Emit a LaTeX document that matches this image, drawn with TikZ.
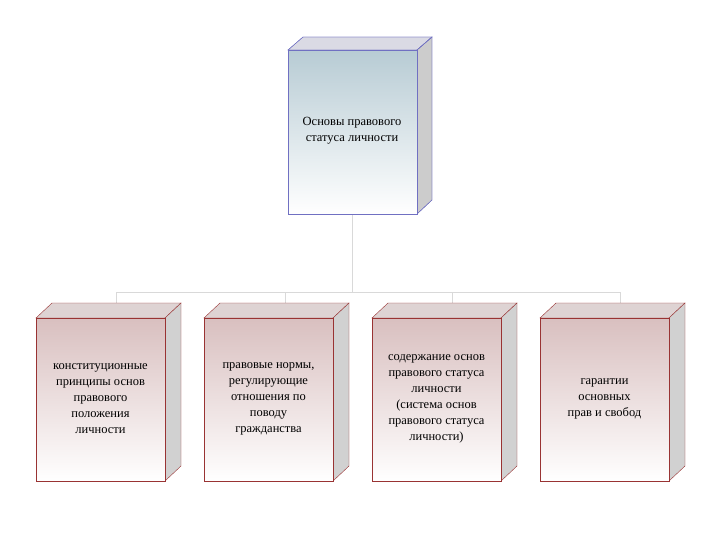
\documentclass[tikz,border=0pt]{standalone}
\usepackage{fontspec}
\setmainfont{Liberation Serif}
\tikzset{
  conn/.style={draw=black!15, line width=1pt},
  topfront/.style={draw=blue!40!gray!80, top color=blue!30!cyan!25!gray!45, bottom color=white},
  topside/.style={draw=blue!40!gray!80, fill=black!20},
  toptop/.style={draw=blue!40!gray!80, fill=blue!15!gray!25},
  pfront/.style={draw=red!50!black!80, top color=red!25!gray!40, bottom color=white},
  pside/.style={draw=red!50!black!80, fill=black!18},
  ptop/.style={draw=red!50!black!80, fill=red!15!gray!30},
  lbl/.style={align=center, font=\fontsize{12.5}{16}\selectfont, text=black}
}
\begin{document}
\begin{tikzpicture}[x=1pt,y=-1pt]
\useasboundingbox (0,0) rectangle (720,540);
% connectors
\coordinate (j) at (352,292);
\draw[conn] (352,214) -- (j);
\draw[conn] (116,292) -- (620,292);
\foreach \x in {116,285,452,620} \draw[conn] (\x,292) -- (\x,303);
% top box
\fill[toptop] (288,50) -- (303,37) -- (432,37) -- (417,50) -- cycle;
\fill[topside] (417,50) -- (432,37) -- (432,200) -- (417,214) -- cycle;
\draw[draw=blue!40!gray!80] (288,50) -- (303,37) -- (432,37) -- (417,50) -- cycle;
\draw[draw=blue!40!gray!80] (417,50) -- (432,37) -- (432,200) -- (417,214) -- cycle;
\node[topfront, minimum width=129pt, minimum height=164pt, anchor=north west, inner sep=0] (top) at (288,50) {};
\node[lbl] (ttext) at (352,131) {Основы правового\\статуса личности};
% bottom boxes
\foreach \x/\name/\txt in {
 36/b1/{конституционные\\принципы основ\\правового\\положения\\личности},
 204/b2/{правовые нормы,\\регулирующие\\отношения по\\поводу\\гражданства},
 372/b3/{содержание основ\\правового статуса\\личности\\(система основ\\правового статуса\\личности)},
 540/b4/{гарантии\\основных\\прав и свобод}}{
  \filldraw[ptop] (\x,318) -- (\x+16,303) -- (\x+145,303) -- (\x+129,318) -- cycle;
  \filldraw[pside] (\x+129,318) -- (\x+145,303) -- (\x+145,466) -- (\x+129,481) -- cycle;
  \node[pfront, minimum width=129pt, minimum height=163pt, anchor=north west, inner sep=0] (\name) at (\x,318) {};
  \node[lbl] at (\x+64.5,399) {\txt};
}
\end{tikzpicture}
\end{document}
